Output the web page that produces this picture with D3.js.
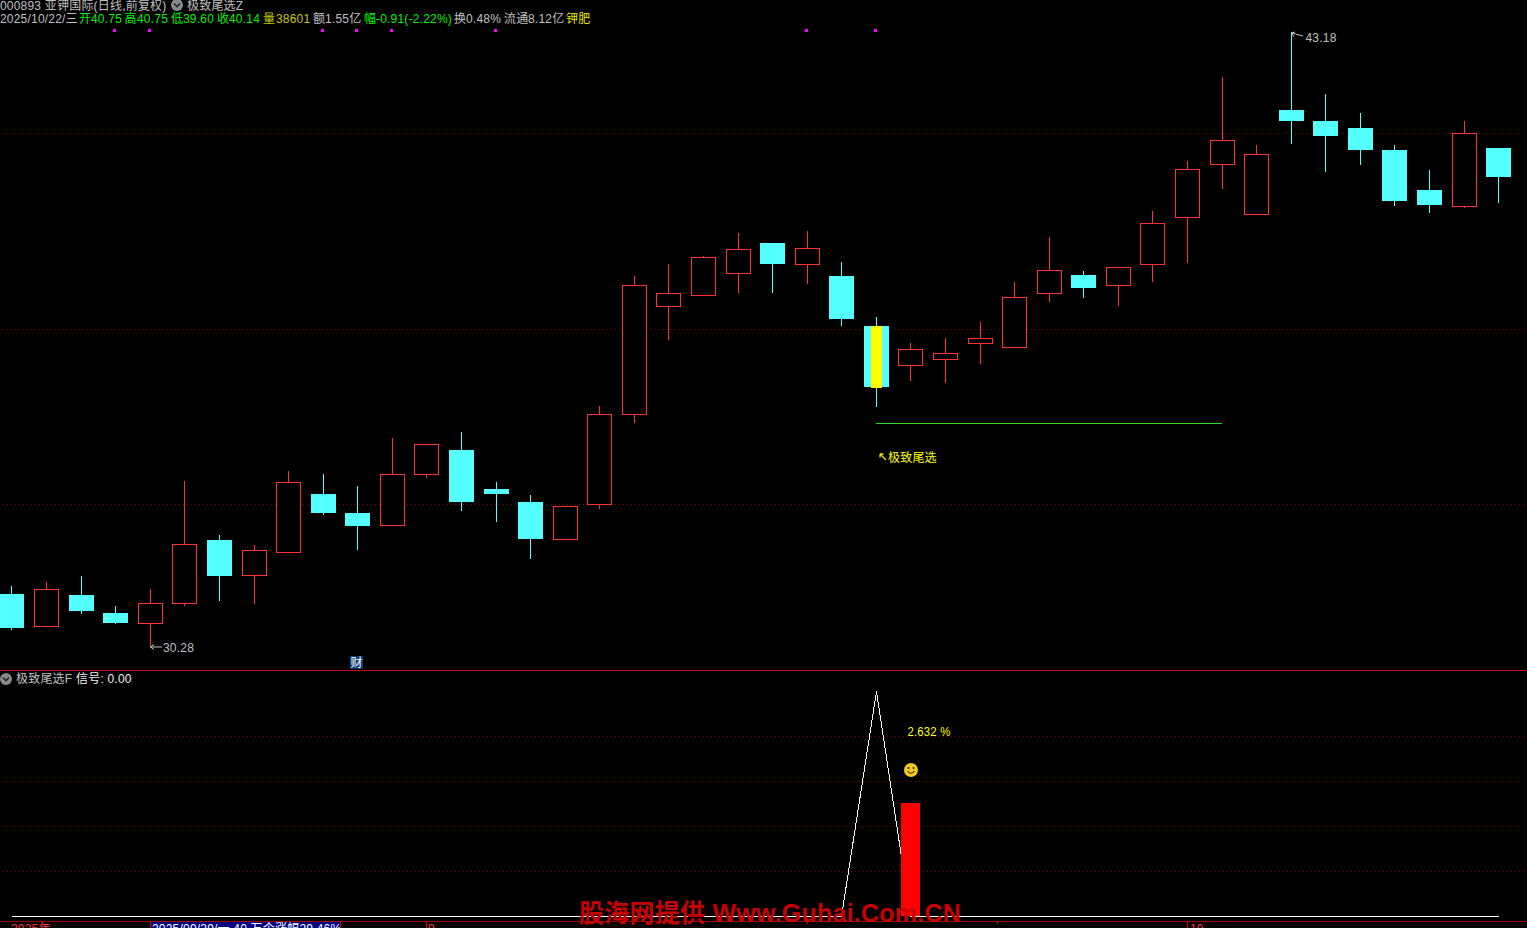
<!DOCTYPE html>
<html>
<head>
<meta charset="utf-8">
<script src="https://cdnjs.cloudflare.com/ajax/libs/d3/7.8.5/d3.min.js"></script>
<style>
  html, body { margin: 0; padding: 0; background: #000; overflow: hidden; }
  svg { display: block; }
  text { font-family: "Liberation Sans", "Noto Sans CJK SC", sans-serif; font-size: 12px; letter-spacing: 0.2px; }
</style>
</head>
<body>
<div id="chart"></div>
<script>
const opens = [31.39, 30.70, 31.37, 30.99, 30.76, 31.18, 32.53, 31.77, 32.25, 33.49, 33.09, 32.82, 33.89, 34.41, 33.60, 33.32, 32.53, 33.26, 35.15, 37.42, 37.65, 38.11, 38.76, 38.30, 38.07, 37.02, 36.18, 36.30, 36.64, 36.55, 37.69, 38.09, 37.86, 38.30, 39.28, 40.40, 39.35, 41.55, 41.32, 41.17, 40.71, 39.87, 39.51, 40.75];
const closes = [30.68, 31.50, 31.04, 30.78, 31.20, 32.44, 31.77, 32.32, 33.74, 33.09, 32.82, 33.91, 34.54, 33.32, 33.49, 32.55, 33.24, 35.17, 37.88, 37.71, 38.46, 38.63, 38.32, 38.65, 37.16, 35.74, 36.53, 36.45, 36.76, 37.63, 38.19, 37.81, 38.25, 39.18, 40.31, 40.92, 40.63, 41.32, 41.00, 40.71, 39.64, 39.56, 41.07, 40.14];
const highs = [31.56, 31.64, 31.77, 31.14, 31.50, 33.76, 32.63, 32.42, 33.97, 33.91, 33.66, 34.67, 34.54, 34.79, 33.74, 33.47, 33.24, 35.34, 38.07, 38.32, 38.49, 38.97, 38.76, 39.01, 38.36, 37.21, 36.66, 36.76, 37.10, 37.94, 38.88, 38.17, 38.25, 39.43, 40.48, 42.24, 40.81, 43.18, 41.89, 41.49, 40.81, 40.29, 41.32, 40.75];
const lows = [30.64, 30.70, 30.97, 30.76, 30.28, 31.14, 31.25, 31.18, 32.25, 33.05, 32.32, 32.82, 33.83, 33.13, 32.90, 32.13, 32.53, 33.18, 34.98, 36.72, 37.65, 37.71, 37.71, 37.90, 37.02, 35.32, 35.86, 35.82, 36.22, 36.55, 37.52, 37.60, 37.44, 37.94, 38.34, 39.89, 39.35, 40.84, 40.25, 40.40, 39.53, 39.39, 39.49, 39.60];

// lower pane: signal line is 0 everywhere except the pick day
const signal = [0, 0, 0, 0, 0, 0, 0, 0, 0, 0, 0, 0, 0, 0, 0, 0, 0, 0, 0, 0, 0, 0, 0, 0, 0, 1, 0, 0, 0, 0, 0, 0, 0, 0, 0, 0, 0, 0, 0, 0, 0, 0, 0, 0];
const barIndex = 26;
const barValue = 0.5;

const priceGrid = [33.28, 36.95, 41.07];
const signalGrid = [0.2, 0.4, 0.6, 0.8];
const markerDays = [3, 4, 9, 10, 11, 14, 23, 25];
const pickDay = 25;
const targetDay = 35;
const targetPrice = 34.98;

const headerTop = ["000893 亚钾国际(日线,前复权)", "极致尾选Z"];
const headerTexts = ["2025/10/22/三", "开", "40.75", "高", "40.75", "低", "39.60", "收", "40.14", "量", "38601", "额", "1.55亿", "幅", "-0.91(-2.22%)", "换", "0.48%", "流通", "8.12亿", "钾肥"];
const headerColors = ["#c0c0c0", "#00f000", "#00f000", "#00f000", "#00f000", "#00f000", "#00f000", "#00f000", "#00f000", "#c8c800", "#c8c800", "#c0c0c0", "#c0c0c0", "#00f000", "#00f000", "#c0c0c0", "#c0c0c0", "#c0c0c0", "#c0c0c0", "#e6e600"];
const headerXs = [0, 79, 91, 124.5, 137, 171, 183, 217, 229, 263, 276, 313, 325, 364, 376, 454, 466, 504, 528, 566];

const width = 1527;
const height = 928;
const red = "#ff3232";
const cyan = "#54ffff";
const gridRed = "#8c0000";

const svg = d3.select("#chart")
  .append("svg")
  .attr("width", width)
  .attr("height", height)
  .style("background", "#000");

const x = d3.scaleLinear().domain([0, opens.length - 1]).range([11, 1497.725]);
const y = d3.scaleLinear().domain([30.28, 43.18]).range([647, 32.3]);
const ySignal = d3.scaleLinear().domain([0, 1]).range([916, 691]);

const col = i => Math.ceil(x(i));
const row = v => Math.round(y(v));

const days = d3.range(opens.length);

// grid
const grid = svg.append("g")
  .attr("stroke", gridRed)
  .attr("stroke-dasharray", "1 3")
  .attr("shape-rendering", "crispEdges");

grid.selectAll("line.price")
  .data(priceGrid)
  .join("line")
  .attr("class", "price")
  .attr("x1", 3).attr("x2", width)
  .attr("y1", d => row(d) + 0.5).attr("y2", d => row(d) + 0.5);

grid.selectAll("line.signal")
  .data(signalGrid)
  .join("line")
  .attr("class", "signal")
  .attr("x1", 3).attr("x2", width)
  .attr("y1", d => Math.round(ySignal(d)) + 0.5).attr("y2", d => Math.round(ySignal(d)) + 0.5);

// candles
const candles = svg.append("g").attr("shape-rendering", "crispEdges");

candles.selectAll("line")
  .data(days)
  .join("line")
  .attr("x1", i => col(i) + 0.5).attr("x2", i => col(i) + 0.5)
  .attr("y1", i => row(highs[i])).attr("y2", i => row(lows[i]))
  .attr("stroke", i => closes[i] >= opens[i] ? red : cyan);

candles.selectAll("rect.up")
  .data(days.filter(i => closes[i] >= opens[i]))
  .join("rect")
  .attr("class", "up")
  .attr("x", i => col(i) - 12 + 0.5)
  .attr("width", 24)
  .attr("y", i => row(closes[i]) + 0.5)
  .attr("height", i => row(opens[i]) - row(closes[i]) - 1)
  .attr("fill", "#000")
  .attr("stroke", red);

candles.selectAll("rect.down")
  .data(days.filter(i => closes[i] < opens[i]))
  .join("rect")
  .attr("class", "down")
  .attr("x", i => col(i) - 12)
  .attr("width", 25)
  .attr("y", i => row(opens[i]))
  .attr("height", i => row(closes[i]) - row(opens[i]))
  .attr("fill", cyan);

// yellow stick on the pick day
candles.append("rect")
  .attr("x", col(pickDay) - 5)
  .attr("width", 11)
  .attr("y", row(opens[pickDay]))
  .attr("height", row(closes[pickDay]) - row(opens[pickDay]) + 1)
  .attr("fill", "#ffff00");

// target line
candles.append("line")
  .attr("x1", col(pickDay)).attr("x2", col(targetDay))
  .attr("y1", row(targetPrice) + 0.5).attr("y2", row(targetPrice) + 0.5)
  .attr("stroke", "#28dc28");

// magenta markers along the top
svg.append("g")
  .attr("shape-rendering", "crispEdges")
  .selectAll("rect")
  .data(markerDays)
  .join("rect")
  .attr("x", i => col(i) - 2)
  .attr("y", 29)
  .attr("width", 3)
  .attr("height", 3)
  .attr("fill", "#ff00ff");

// lower pane
const signalLine = d3.line().x((d, i) => col(i) + 0.5).y(d => ySignal(d) + 0.5);

svg.append("path")
  .datum(signal)
  .attr("d", signalLine)
  .attr("fill", "none")
  .attr("stroke", "#fff")
  .attr("shape-rendering", "crispEdges");

svg.append("rect")
  .attr("x", col(barIndex) - 9)
  .attr("width", 19)
  .attr("y", Math.floor(ySignal(barValue)))
  .attr("height", ySignal(0) - Math.floor(ySignal(barValue)))
  .attr("fill", "#ff0000")
  .attr("shape-rendering", "crispEdges");

// pane separators
const seps = svg.append("g").attr("shape-rendering", "crispEdges");
seps.append("line").attr("x1", 0).attr("x2", width).attr("y1", 670.5).attr("y2", 670.5).attr("stroke", "#c80000");
seps.append("line").attr("x1", 0).attr("x2", width).attr("y1", 921.5).attr("y2", 921.5).attr("stroke", "#a00000");

// header
function dropIcon(cx, cy) {
  svg.append("circle").attr("cx", cx).attr("cy", cy).attr("r", 6).attr("fill", "#8a8a8a");
  svg.append("path")
    .attr("d", `M${cx - 3},${cy - 1.5} L${cx},${cy + 1.5} L${cx + 3},${cy - 1.5}`)
    .attr("fill", "none").attr("stroke", "#222").attr("stroke-width", 1.6);
}

function label(txt, px, py, color) {
  return svg.append("text").attr("x", px).attr("y", py).attr("fill", color).text(txt);
}

label(headerTop[0], 0, 10, "#c0c0c0");
dropIcon(177, 5);
label(headerTop[1], 187, 10, "#c0c0c0");

headerTexts.forEach((t, i) => label(t, headerXs[i], 23, headerColors[i]));

// price extremes
svg.append("path")
  .attr("d", "M150.5,647 L162,647 M150.5,647 L154,644.5 M150.5,647 L154,649.5")
  .attr("fill", "none").attr("stroke", "#c0c0c0");
label("30.28", 163, 652, "#c0c0c0");

svg.append("path")
  .attr("d", "M1291.5,33 L1303,36 M1291.5,33 L1295,32 M1291.5,33 L1294,37")
  .attr("fill", "none").attr("stroke", "#c0c0c0");
label("43.18", 1305.5, 42, "#c0c0c0");

// finance flag
svg.append("rect").attr("x", 350).attr("y", 656).attr("width", 13).attr("height", 13).attr("fill", "#0a3c78");
label("财", 350.5, 667, "#fff");

// pick label
svg.append("path")
  .attr("d", "M880,454 L886,460 M880,454 L880,457.5 M880,454 L883.5,454")
  .attr("fill", "none").attr("stroke", "#e6e600").attr("stroke-width", 1.3);
label("极致尾选", 888, 462, "#ffff00");

// lower pane labels
dropIcon(6, 679);
label("极致尾选F", 16, 683, "#c0c0c0");
label("信号: 0.00", 76, 683, "#f0f0f0");
label("2.632 %", 907.5, 736, "#ffff00")
  .attr("textLength", 43)
  .attr("lengthAdjust", "spacingAndGlyphs");

// smiley
const smiley = svg.append("g").attr("transform", "translate(911,770)");
smiley.append("circle").attr("r", 7).attr("fill", "#f0c81e");
smiley.append("circle").attr("cx", -2.5).attr("cy", -2).attr("r", 1).attr("fill", "#3a2a00");
smiley.append("circle").attr("cx", 2.5).attr("cy", -2).attr("r", 1).attr("fill", "#3a2a00");
smiley.append("path").attr("d", "M-3.5,1 Q0,5.5 3.5,1").attr("fill", "none").attr("stroke", "#3a2a00").attr("stroke-width", 1.1);

// bottom date strip, cut off by the window edge
svg.append("rect").attr("x", 151).attr("y", 922).attr("width", 189).attr("height", 6).attr("fill", "#000080");
label("2025年", 11, 933, "#ff3232");
label("2025/09/29/一 40 万个涨幅29.46%", 152, 933, "#fff");
label("9", 428, 933, "#ff3232");
label("10", 1190, 933, "#ff3232");

const stripTicks = svg.append("g").attr("stroke", "#c80000").attr("shape-rendering", "crispEdges");
[[150.5, 928], [340.5, 928], [426.5, 928], [807.5, 924], [997.5, 924], [1187.5, 928]].forEach(t => {
  stripTicks.append("line").attr("x1", t[0]).attr("x2", t[0]).attr("y1", 921).attr("y2", t[1]);
});

// watermark
svg.append("text")
  .attr("x", 579)
  .attr("y", 922)
  .attr("fill", "#c80000")
  .attr("textLength", 382)
  .attr("lengthAdjust", "spacingAndGlyphs")
  .style("font-size", "25px")
  .style("font-weight", "bold")
  .text("股海网提供 Www.Guhai.Com.CN");
</script>
</body>
</html>
